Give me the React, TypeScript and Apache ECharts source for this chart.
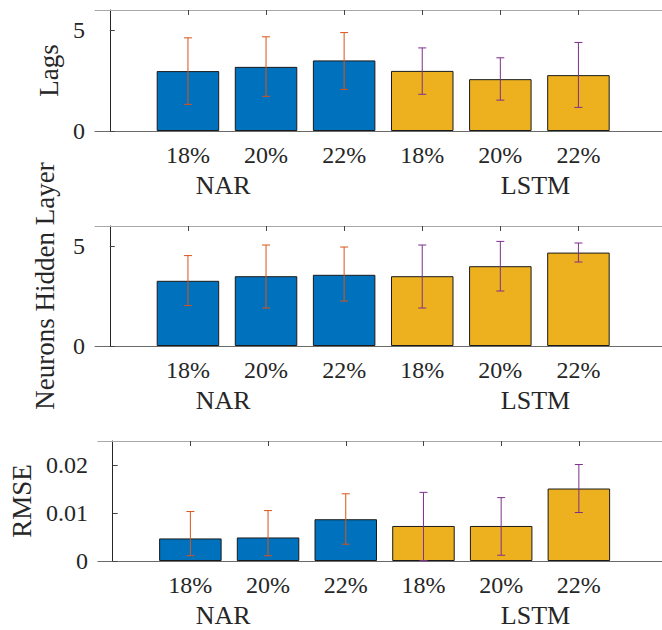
import React, { useEffect, useRef } from "react";
import * as echarts from "echarts";

// ---- data ----
const categories = ["18%", "20%", "22%", "18%", "20%", "22%"];
const positions = [1, 2, 3, 4, 5, 6];
const groups = ["NAR", "LSTM"];
const groupPositions = [1.45, 5.45];
const groupOf = [0, 0, 0, 1, 1, 1];

const lagsMean = [2.97, 3.18, 3.5, 2.98, 2.57, 2.77];
const lagsLow = [1.32, 1.72, 2.06, 1.82, 1.53, 1.17];
const lagsHigh = [4.62, 4.67, 4.88, 4.12, 3.63, 4.39];

const neuronsMean = [3.26, 3.49, 3.56, 3.49, 3.99, 4.67];
const neuronsLow = [2.02, 1.9, 2.25, 1.9, 2.75, 4.2];
const neuronsHigh = [4.52, 5.05, 4.95, 5.05, 5.23, 5.15];

const rmseMean = [0.0047, 0.0049, 0.0087, 0.0073, 0.0073, 0.0151];
const rmseLow = [0.0011, 0.0011, 0.0035, 0.0001, 0.0012, 0.0101];
const rmseHigh = [0.0103, 0.0105, 0.014, 0.0143, 0.0132, 0.0201];

const lagsTicks = [0, 5];
const neuronsTicks = [0, 5];
const rmseTicks = [0, 0.01, 0.02];

const yNames = ["Lags", "Neurons Hidden Layer", "RMSE"];
const yMaxes = [6, 6, 0.025];

// ---- style / layout ----
const FONT = "Liberation Serif";
const TEXT = "#262626";
const BAR_COLORS = ["#0072BD", "#EDB120"];
const ERR_COLORS = ["#D95319", "#7E2F8E"];
const X_MIN = -0.19;
const X_MAX = 7.07;
const GRID_LEFT = 95;
const GRID_WIDTH = 567;
const grids = [
  { top: 10, height: 121 },
  { top: 226, height: 120 },
  { top: 441, height: 120 },
];
const nameGaps = [23, 37, 60];
const groupLabelOffset = 55;

const panels = [
  { mean: lagsMean, low: lagsLow, high: lagsHigh, ticks: lagsTicks },
  { mean: neuronsMean, low: neuronsLow, high: neuronsHigh, ticks: neuronsTicks },
  { mean: rmseMean, low: rmseLow, high: rmseHigh, ticks: rmseTicks },
];

function buildOption() {
  const grid: any[] = [];
  const xAxis: any[] = [];
  const yAxis: any[] = [];
  const series: any[] = [];

  panels.forEach((p, i) => {
    grid.push({ left: GRID_LEFT, width: GRID_WIDTH, top: grids[i].top, height: grids[i].height });
    xAxis.push({
      type: "value",
      gridIndex: i,
      position: "bottom",
      min: X_MIN,
      max: X_MAX,
      axisLine: { show: true, onZero: false, lineStyle: { color: "#6a6a6a", width: 1 } },
      axisTick: { show: false },
      splitLine: { show: false },
      axisLabel: {
        customValues: positions,
        formatter: (v: number) => {
          const idx = positions.indexOf(Math.round(v));
          return idx >= 0 ? categories[idx] : "";
        },
        fontFamily: FONT,
        fontSize: 24,
        color: TEXT,
        margin: 12,
      },
    });
    xAxis.push({
      type: "value",
      gridIndex: i,
      position: "top",
      min: X_MIN,
      max: X_MAX,
      axisLine: { show: true, onZero: false, lineStyle: { color: "#a8a8a8", width: 1 } },
      axisTick: {
        show: true,
        inside: true,
        length: 5,
        customValues: positions,
        lineStyle: { color: "#444" },
      },
      axisLabel: { show: false },
      splitLine: { show: false },
    });
    const isRmse = i === 2;
    yAxis.push({
      type: "value",
      gridIndex: i,
      min: 0,
      max: yMaxes[i],
      name: yNames[i],
      nameLocation: "middle",
      nameGap: nameGaps[i],
      nameTextStyle: { fontFamily: FONT, fontSize: 27, color: TEXT },
      axisLine: { show: true, lineStyle: { color: "#262626", width: 1 } },
      axisTick: {
        show: true,
        inside: true,
        length: 5,
        customValues: p.ticks,
        lineStyle: { color: "#444" },
      },
      splitLine: { show: false },
      axisLabel: {
        customValues: p.ticks,
        formatter: (v: number) => (isRmse ? (v === 0 ? "0" : v.toFixed(2)) : String(v)),
        fontFamily: FONT,
        fontSize: 24,
        color: TEXT,
        margin: 10,
      },
    });

    groups.forEach((g, gi) => {
      const idxs = groupOf.map((v, k) => (v === gi ? k : -1)).filter((k) => k >= 0);
      series.push({
        type: "bar",
        name: g,
        xAxisIndex: i * 2,
        yAxisIndex: i,
        barWidth: 62.5,
        barGap: "-100%",
        itemStyle: { color: BAR_COLORS[gi], borderColor: "#1a1a1a", borderWidth: 1 },
        data: idxs.map((k) => [positions[k], p.mean[k]]),
        z: 2,
      });
      const color = ERR_COLORS[gi];
      series.push({
        type: "custom",
        name: g + " error",
        xAxisIndex: i * 2,
        yAxisIndex: i,
        clip: true,
        z: 5,
        encode: { x: 0, y: [1, 2] },
        data: idxs.map((k) => [positions[k], p.low[k], p.high[k]]),
        renderItem: (params: any, api: any) => {
          const x = api.value(0);
          const a = api.coord([x, api.value(2)]);
          const b = api.coord([x, api.value(1)]);
          const hw = 4;
          const style = { stroke: color, lineWidth: 1, fill: "none" };
          return {
            type: "group",
            children: [
              { type: "line", shape: { x1: a[0], y1: a[1], x2: b[0], y2: b[1] }, style },
              { type: "line", shape: { x1: a[0] - hw, y1: a[1], x2: a[0] + hw, y2: a[1] }, style },
              { type: "line", shape: { x1: b[0] - hw, y1: b[1], x2: b[0] + hw, y2: b[1] }, style },
            ],
          };
        },
      });
    });
  });

  return {
    animation: false,
    backgroundColor: "#ffffff",
    grid,
    xAxis,
    yAxis,
    series,
  };
}

// group labels (NAR / LSTM) placed with the same x scale as the axes
const groupLabels = panels.flatMap((_, i) =>
  groups.map((g, gi) => ({
    text: g,
    x: GRID_LEFT + ((groupPositions[gi] - X_MIN) / (X_MAX - X_MIN)) * GRID_WIDTH,
    y: grids[i].top + grids[i].height + groupLabelOffset,
  }))
);

export default function App() {
  const ref = useRef<HTMLDivElement>(null);
  useEffect(() => {
    document.body.style.margin = "0";
    if (!ref.current) return;
    const chart = echarts.init(ref.current, undefined, { renderer: "svg" });
    chart.setOption(buildOption());
    return () => chart.dispose();
  }, []);
  return (
    <div style={{ position: "relative", width: 662, height: 630 }}>
      <div ref={ref} style={{ width: 662, height: 630 }} />
      {groupLabels.map((l, k) => (
        <div
          key={k}
          style={{
            position: "absolute",
            left: l.x,
            top: l.y,
            transform: "translate(-50%, -50%)",
            fontFamily: FONT,
            fontSize: 26,
            lineHeight: 1,
            color: TEXT,
            whiteSpace: "nowrap",
            pointerEvents: "none",
          }}
        >
          {l.text}
        </div>
      ))}
    </div>
  );
}
